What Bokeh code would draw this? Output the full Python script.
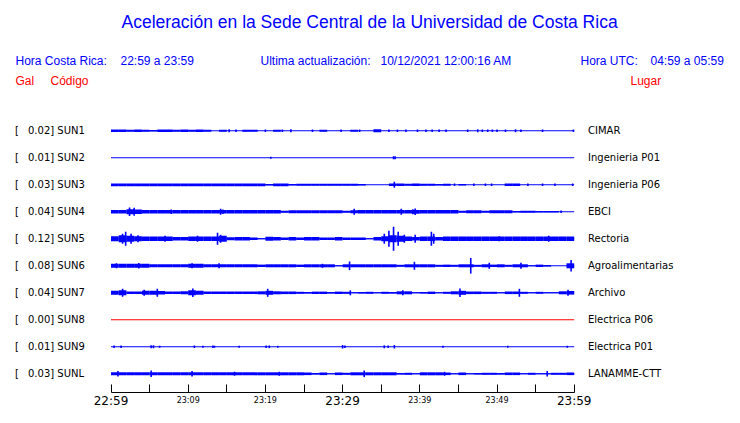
from bokeh.plotting import figure
from bokeh.models import Range1d, LinearAxis, FixedTicker
from bokeh.core.properties import value
from bokeh.embed import file_html
from bokeh.resources import INLINE

# ---------------- data ----------------
stations = ["SUN1", "SUN2", "SUN3", "SUN4", "SUN5", "SUN6", "SUN7", "SUN8", "SUN9", "SUNL"]
peak_gal = ["0.02", "0.01", "0.03", "0.04", "0.12", "0.08", "0.04", "0.00", "0.01", "0.03"]
places = ["CIMAR", "Ingenieria P01", "Ingenieria P06", "EBCI", "Rectoria",
          "Agroalimentarias", "Archivo", "Electrica P06", "Electrica P01", "LANAMME-CTT"]

tick_minutes = [0, 5, 10, 15, 20, 25, 30, 35, 40, 45, 50, 55, 60]
tick_labels = ["22:59", "23:04", "23:09", "23:14", "23:19", "23:24", "23:29",
               "23:34", "23:39", "23:44", "23:49", "23:54", "23:59"]
major_labels = ["22:59", "23:29", "23:59"]
minor_labels = ["23:09", "23:19", "23:39", "23:49"]

# envelope half-height per minute (display units) for each station, minutes 0..59
env_sun1 = [1.3, 1.3, 1.0, 1.2, 1.0, 0.8, 1.2, 1.2, 1.0, 1.2, 1.0, 1.2, 1.0, 0, 1.0, 0, 0, 1.0, 1.0, 0,
            0, 1.0, 0, 0, 0, 0, 0, 1.0, 0, 0, 0, 1.0, 0, 0, 1.5, 0, 0, 0, 0, 0,
            0, 0, 0, 0, 0, 0, 0, 0, 0, 0, 0, 0, 0, 0, 0, 0, 0, 0, 0, 0]
env_sun2 = [0] * 60
env_sun3 = [1.4, 1.4, 1.4, 1.4, 1.4, 1.4, 1.4, 1.4, 1.4, 1.4, 1.4, 1.4, 1.4, 1.4, 1.4, 1.4, 1.4, 1.4, 1.4, 1.4,
            0.8, 1.4, 1.4, 0.8, 1.0, 1.0, 1.0, 1.0, 1.0, 1.0, 1.0, 1.0, 0.8, 0, 0, 0, 1.3, 1.3, 1.0, 1.2,
            1.0, 1.0, 0.8, 1.0, 0, 0.8, 0, 0, 0, 0, 0, 1.3, 1.3, 0, 0, 0, 0, 0, 0, 0]
env_sun4 = [1.8, 1.8, 2.5, 2.2, 1.8, 1.8, 1.8, 1.8, 1.8, 1.8, 1.8, 1.8, 1.8, 1.8, 1.8, 1.8, 1.8, 1.8, 1.8, 1.8,
            1.8, 1.8, 1.0, 1.5, 1.5, 1.5, 1.5, 1.5, 1.5, 1.5, 1.0, 1.5, 1.7, 1.7, 1.7, 1.7, 1.7, 1.7, 1.7, 1.9,
            1.7, 1.7, 1.7, 1.7, 1.7, 1.0, 1.5, 1.5, 1.0, 1.5, 1.5, 1.5, 0.8, 1.0, 1.0, 0.8, 0.8, 0.8, 0, 0]
env_sun5 = [2.5, 3.5, 3.0, 2.5, 2.2, 2.2, 2.2, 2.2, 1.8, 1.8, 2.2, 2.2, 2.2, 2.2, 3.0, 1.5, 1.7, 1.7, 1.2, 0.5,
            2.0, 1.7, 1.2, 1.7, 1.2, 1.7, 1.7, 1.2, 1.2, 1.7, 1.2, 1.2, 1.2, 0.5, 1.7, 2.5, 3.5, 3.0, 2.2, 1.8,
            2.2, 2.2, 1.8, 2.2, 2.2, 2.2, 2.2, 2.2, 2.2, 2.2, 2.2, 2.2, 2.2, 2.2, 2.2, 2.2, 2.2, 2.2, 2.2, 2.2]
env_sun6 = [2.0, 2.0, 2.0, 2.0, 2.0, 1.5, 1.5, 1.5, 1.5, 1.5, 2.0, 2.0, 1.5, 1.5, 1.5, 1.5, 1.5, 1.5, 1.5, 1.2,
            1.5, 1.5, 1.5, 1.5, 1.2, 1.5, 1.5, 1.5, 1.5, 0.5, 1.5, 1.5, 1.5, 1.5, 1.5, 1.5, 1.5, 1.0, 1.5, 1.5,
            1.5, 1.5, 1.0, 1.2, 1.0, 1.5, 1.5, 1.0, 1.5, 1.2, 1.5, 1.0, 1.5, 1.5, 0.5, 1.2, 0.8, 0, 0, 2.5]
env_sun7 = [2.0, 2.5, 1.3, 1.3, 2.0, 2.0, 1.8, 1.3, 1.3, 1.5, 2.5, 2.0, 1.3, 1.3, 1.3, 1.3, 1.3, 1.3, 1.3, 1.5,
            2.0, 1.5, 1.3, 1.3, 1.0, 0.8, 1.2, 1.2, 0.8, 1.2, 1.0, 0.5, 0.8, 1.0, 0.5, 1.0, 0.8, 1.5, 1.5, 0.5,
            0.8, 1.2, 0.5, 1.0, 1.5, 2.0, 1.3, 1.3, 1.0, 1.0, 0.5, 1.3, 1.3, 1.0, 0.5, 1.0, 0.5, 0.5, 1.5, 1.8]
env_sun8 = [0] * 60
env_sun9 = [0] * 60
env_sunl = [1.5, 1.5, 1.5, 1.5, 1.5, 1.5, 1.5, 1.5, 1.5, 1.5, 1.5, 1.5, 1.5, 1.5, 1.5, 1.5, 1.5, 1.5, 1.5, 1.5,
            1.5, 1.5, 1.5, 1.5, 1.5, 1.3, 0.8, 1.3, 0.5, 1.3, 1.0, 1.5, 1.5, 1.5, 1.5, 1.5, 1.5, 0.8, 1.0, 0.5,
            1.5, 1.5, 1.5, 1.3, 0.5, 1.3, 0.5, 0.8, 1.0, 1.0, 0.8, 1.3, 1.3, 0.5, 1.0, 0.5, 0.5, 1.0, 1.0, 1.3]

# individual spikes: (minute, half-height)
peaks_sun1 = [(15.3, 1.5), (16.2, 1.3), (20.0, 1.3), (22.2, 1.3), (23.3, 1.5), (26.1, 1.3), (29.8, 1.3),
              (32.2, 1.3), (36.0, 1.3), (37.1, 1.3), (38.2, 1.3), (39.7, 1.3), (40.8, 1.3), (41.6, 1.3),
              (42.5, 1.3), (43.4, 1.3), (46.2, 1.3), (47.5, 1.5), (48.1, 1.3), (48.8, 1.3), (49.4, 1.3),
              (50.0, 1.3), (51.1, 1.3), (52.4, 1.5), (53.1, 1.3), (55.9, 1.3), (59.9, 1.3)]
peaks_sun2 = [(20.7, 1.0), (36.6, 1.5), (36.8, 1.5)]
peaks_sun3 = [(36.7, 3.0), (44.5, 1.3), (47.0, 1.3), (48.5, 1.3), (49.3, 1.3), (54.0, 1.3), (55.9, 1.3),
              (57.5, 1.3), (59.8, 1.3)]
peaks_sun4 = [(2.4, 4.3), (3.0, 4.0), (7.8, 2.3), (14.2, 3.0), (14.5, 2.3), (31.5, 3.0), (37.6, 3.0),
              (39.1, 2.5), (39.4, 3.3), (58.3, 1.3)]
peaks_sun5 = [(1.5, 5.0), (1.9, 7.0), (2.6, 5.0), (3.5, 3.5), (7.0, 3.0), (11.2, 3.0), (13.8, 6.0),
              (14.2, 4.0), (35.4, 5.0), (36.0, 8.0), (36.6, 12.0), (37.2, 7.0), (38.0, 4.0), (39.4, 4.0),
              (41.5, 7.0), (41.8, 5.0), (50.3, 2.5), (56.7, 3.0)]
peaks_sun6 = [(0.7, 2.5), (3.6, 2.7), (10.5, 2.5), (14.0, 2.5), (27.4, 2.0), (30.9, 4.3), (39.3, 4.0),
              (46.6, 7.8), (49.0, 3.0), (53.1, 3.0), (59.6, 5.7)]
peaks_sun7 = [(1.5, 4.0), (4.3, 3.0), (6.0, 4.0), (10.6, 4.3), (20.3, 4.0), (31.0, 2.5), (37.8, 2.5),
              (45.2, 4.3), (52.9, 4.0), (59.2, 3.0)]
peaks_sun8 = []
peaks_sun9 = [(0.4, 1.3), (1.3, 1.3), (5.2, 1.5), (5.5, 1.5), (6.3, 1.0), (10.8, 1.3), (11.9, 1.0),
              (13.2, 1.3), (13.4, 1.0), (16.6, 1.0), (20.1, 1.3), (20.5, 1.3), (21.6, 1.0), (30.0, 1.7),
              (30.3, 1.3), (35.4, 1.5), (35.9, 1.3), (36.7, 1.7), (43.0, 1.0), (51.4, 1.0), (59.1, 1.0)]
peaks_sunl = [(0.9, 2.7), (5.2, 3.3), (10.5, 2.7), (16.0, 2.0), (21.8, 2.0), (32.8, 3.3), (43.2, 2.0),
              (56.5, 2.7)]

envelopes = [env_sun1, env_sun2, env_sun3, env_sun4, env_sun5, env_sun6, env_sun7, env_sun8, env_sun9, env_sunl]
peaks = [peaks_sun1, peaks_sun2, peaks_sun3, peaks_sun4, peaks_sun5, peaks_sun6, peaks_sun7, peaks_sun8,
         peaks_sun9, peaks_sunl]

# ---------------- styling / layout ----------------
BLUE = "#0000ff"
RED = "#ff0000"
trace_colors = [BLUE] * 7 + [RED] + [BLUE] * 2
ROW0 = 130.3
ROW_STEP = 27.0
X0_PX = 110.5
PX_PER_MIN = 7.72
AXIS_Y = 392

W, H = 724, 407
p = figure(width=W, height=H, output_backend="svg", toolbar_location=None,
           x_axis_type=None, y_axis_type=None,
           x_range=Range1d(-X0_PX / PX_PER_MIN, (W - X0_PX) / PX_PER_MIN),
           y_range=Range1d(H, 0), min_border=0)
p.extra_x_ranges = {"page": Range1d(0, W)}
p.outline_line_color = None
p.background_fill_color = "white"
p.border_fill_color = "white"

centers = [ROW0 + ROW_STEP * i for i in range(len(stations))]

# baselines
p.segment(x0=[0] * len(stations), x1=[60] * len(stations), y0=centers, y1=centers,
          line_color=trace_colors, line_width=1.1)

# envelopes
ql, qr, qb, qt, qc = [], [], [], [], []
for env, yc, col in zip(envelopes, centers, trace_colors):
    for m, a in enumerate(env):
        if a > 0:
            ql.append(m); qr.append(m + 1); qb.append(yc + a); qt.append(yc - a); qc.append(col)
p.quad(left=ql, right=qr, bottom=qb, top=qt, fill_color=qc, line_color=None)

# spikes
sx, sy0, sy1, sc = [], [], [], []
for pk, yc, col in zip(peaks, centers, trace_colors):
    for m, a in pk:
        sx.append(m); sy0.append(yc - a); sy1.append(yc + a); sc.append(col)
p.segment(x0=sx, x1=sx, y0=sy0, y1=sy1, line_color=sc, line_width=1.6)

# time axis
ax_small = LinearAxis(fixed_location=AXIS_Y, ticker=FixedTicker(ticks=tick_minutes), bounds=(0, 60),
                      major_label_overrides={m: (l if l in minor_labels else "")
                                             for m, l in zip(tick_minutes, tick_labels)},
                      major_tick_in=8, major_tick_out=0, minor_tick_line_color=None,
                      axis_line_color="black", major_tick_line_color="black",
                      major_label_text_font="DejaVu Sans", major_label_text_font_size="8px",
                      major_label_text_color="black", major_label_standoff=3)
ax_big = LinearAxis(fixed_location=AXIS_Y, ticker=FixedTicker(ticks=[0, 30, 60]), bounds=(0, 60),
                    major_label_overrides={m: l for m, l in zip(tick_minutes, tick_labels) if l in major_labels},
                    major_tick_in=0, major_tick_out=0, minor_tick_line_color=None,
                    axis_line_color=None, major_tick_line_color=None,
                    major_label_text_font="DejaVu Sans", major_label_text_font_size="12px",
                    major_label_text_color="black", major_label_standoff=1)
p.add_layout(ax_small, "below")
p.add_layout(ax_big, "below")

# ---------------- texts ----------------
def txt(x, y, s, color, size, font, align="left"):
    p.text(x=[x], y=[y], text=[s], x_range_name="page", text_color=color,
           text_font=value(font), text_font_size=size, text_align=align,
           text_baseline="alphabetic")

SANS = "Liberation Sans"
txt(121, 21.5, "Aceleración en la Sede Central de la Universidad de Costa Rica", BLUE, "17.5px", SANS)
txt(15, 60.5, "Hora Costa Rica:", BLUE, "12px", SANS)
txt(120, 60.5, "22:59 a 23:59", BLUE, "12px", SANS)
txt(260, 60.5, "Ultima actualización:", BLUE, "12px", SANS)
txt(380, 60.5, "10/12/2021 12:00:16 AM", BLUE, "12px", SANS)
txt(580, 60.5, "Hora UTC:", BLUE, "12px", SANS)
txt(650, 60.5, "04:59 a 05:59", BLUE, "12px", SANS)
txt(15, 80.5, "Gal", RED, "12px", SANS)
txt(50, 80.5, "Código", RED, "12px", SANS)
txt(630, 80.5, "Lugar", RED, "12px", SANS)

for yc, g, st, pl in zip(centers, peak_gal, stations, places):
    txt(14.5, yc - 0.6, "[", "black", "10px", "DejaVu Sans")
    txt(27.5, yc - 0.6, g + "] " + st, "black", "10px", "DejaVu Sans")
    txt(587.5, yc - 0.6, pl, "black", "10px", "DejaVu Sans")

open("out.html", "w").write(file_html(p, INLINE))
